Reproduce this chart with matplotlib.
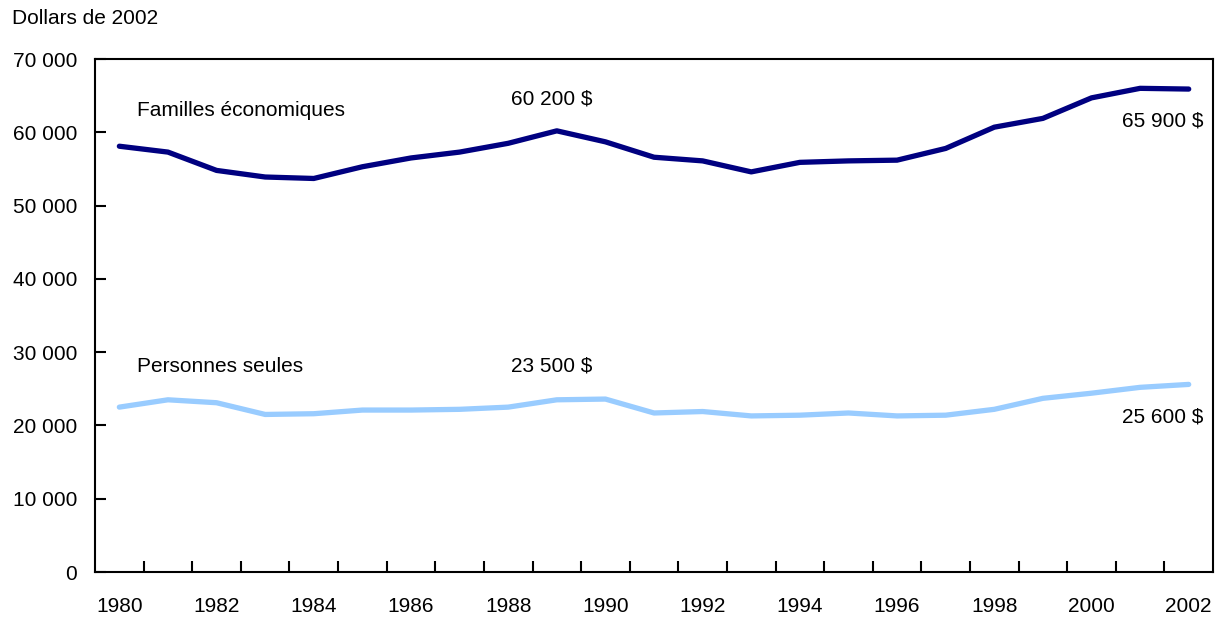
import matplotlib
matplotlib.use("Agg")
import matplotlib.pyplot as plt
from matplotlib.ticker import FuncFormatter

# Données (dollars de 2002)
years = list(range(1980, 2003))
familles = [58100, 57300, 54800, 53900, 53700, 55300, 56500, 57300, 58500, 60200,
            58700, 56600, 56100, 54600, 55900, 56100, 56200, 57800, 60700, 61900,
            64700, 66000, 65900]
seules = [22500, 23500, 23100, 21500, 21600, 22100, 22100, 22200, 22500, 23500,
          23600, 21700, 21900, 21300, 21400, 21700, 21300, 21400, 22200, 23700,
          24400, 25200, 25600]
year_labels = list(range(1980, 2003, 2))
y_ticks = list(range(0, 70001, 10000))

plt.rcParams['font.family'] = ['Liberation Sans', 'DejaVu Sans']
FS = 15

fig = plt.figure(figsize=(12.28, 6.18), dpi=100)
ax = fig.add_axes([0.0774, 0.0744, 0.9104, 0.8301])

ax.plot(years, familles, color='#000080', linewidth=3.8, solid_capstyle='round')
ax.plot(years, seules, color='#99ccff', linewidth=3.8, solid_capstyle='round')

ax.set_xlim(1979.5, 2002.5)
ax.set_ylim(0, 70000)

# graduations entre les années, étiquettes sur les années paires
ax.set_xticks([y + 0.5 for y in years[:-1]])
ax.set_xticklabels([])
ax.set_xticks(year_labels, minor=True)
ax.set_xticklabels([str(y) for y in year_labels], minor=True)
ax.tick_params(axis='x', which='major', direction='in', length=8, width=1.5)
ax.tick_params(axis='x', which='minor', length=0, pad=18, labelsize=FS)

ax.set_yticks(y_ticks)
ax.yaxis.set_major_formatter(FuncFormatter(lambda v, p: f"{int(v):,}".replace(",", " ")))
ax.tick_params(axis='y', direction='in', length=8, width=1.5, pad=13, labelsize=FS)

for s in ax.spines.values():
    s.set_linewidth(1.5)

ax.text(1980.37, 63000, "Familles économiques", fontsize=FS, va='center', ha='left')
ax.text(1988.9, 64500, "60 200 $", fontsize=FS, va='center', ha='center')
ax.text(2002.3, 61500, "65 900 $", fontsize=FS, va='center', ha='right')
ax.text(1980.37, 28100, "Personnes seules", fontsize=FS, va='center', ha='left')
ax.text(1988.9, 28100, "23 500 $", fontsize=FS, va='center', ha='center')
ax.text(2002.3, 21100, "25 600 $", fontsize=FS, va='center', ha='right')

fig.text(12 / 1228, 1 - 19 / 618, "Dollars de 2002", fontsize=FS, va='center', ha='left')

fig.savefig("out.png", dpi=100)
